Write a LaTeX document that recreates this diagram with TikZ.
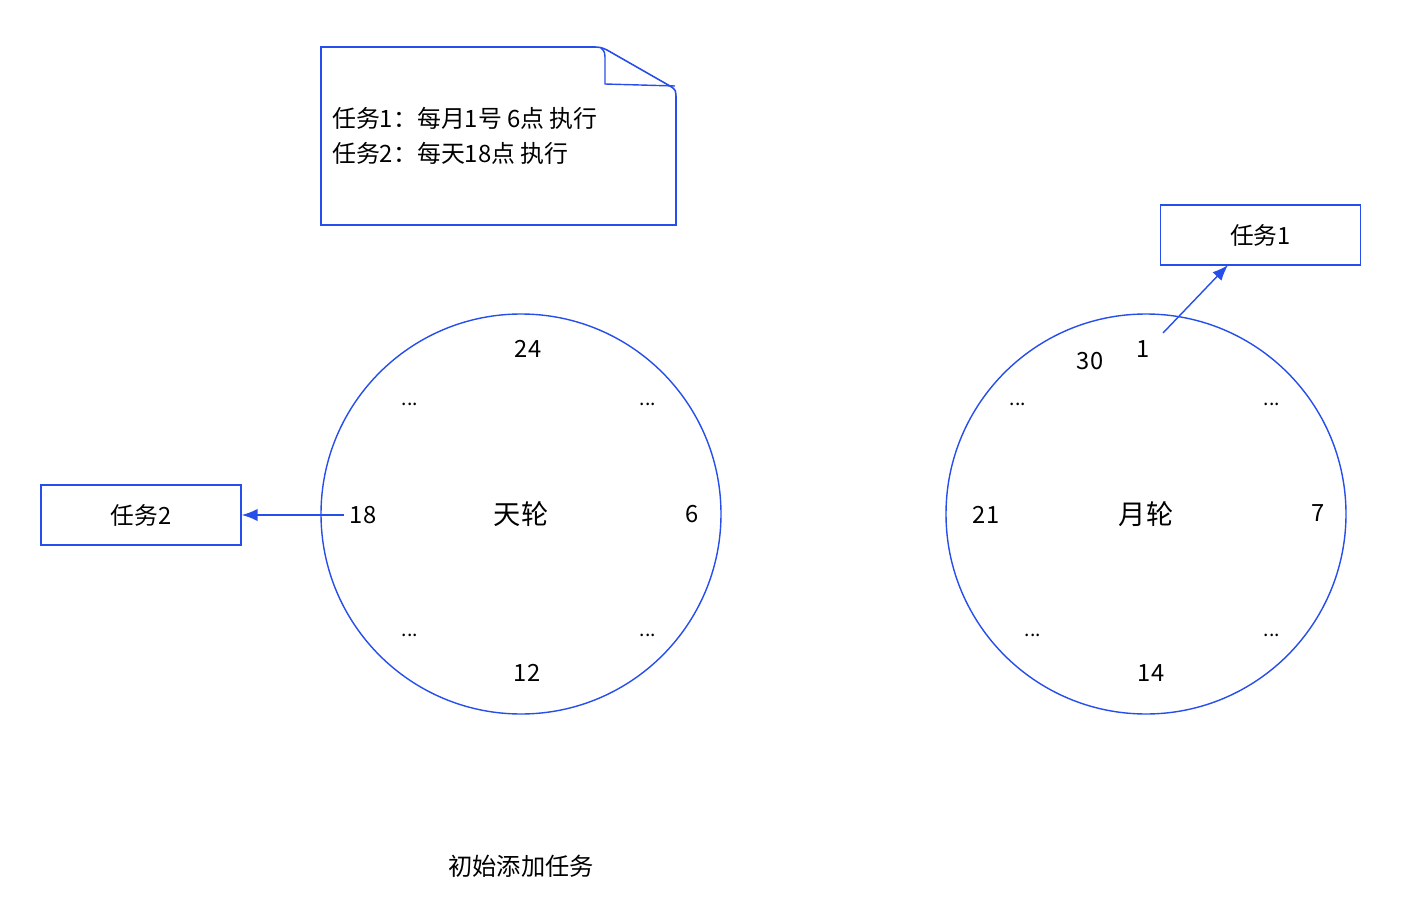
\documentclass[tikz,border=0pt]{standalone}
\usepackage{fontspec}
\setmainfont{Noto Sans CJK SC}
\usetikzlibrary{arrows.meta}
\definecolor{wheelblue}{RGB}{38,78,235}
\tikzset{
  wheel/.style={draw=wheelblue,line width=0.8pt},
  taskbox/.style={draw=wheelblue,line width=0.9pt,minimum width=4cm,minimum height=1.2cm,font=\fontsize{13.5}{16}\selectfont},
  tick/.style={font=\fontsize{13.5}{16}\selectfont},
  dots/.style={font=\fontsize{11}{13}\selectfont},
  hub/.style={font=\fontsize{15.5}{18}\selectfont},
  link/.style={draw=wheelblue,line width=0.8pt,-{Latex[length=9pt,width=7pt]}}
}
\begin{document}
\begin{tikzpicture}[x=0.02cm,y=-0.02cm]
\useasboundingbox (0,0) rectangle (1404,909);
% note
\draw[wheelblue,line width=0.9pt] (321,47) -- (590,47) .. controls (600,47) .. (607,50) -- (670,86) .. controls (676,90) .. (676,100) -- (676,225) -- (321,225) -- cycle;
\draw[wheelblue,line width=0.8pt] (601,48) .. controls (605,52) .. (605,62) -- (605,84) -- (675,86);
\node[anchor=west,align=left,font=\fontsize{13.6}{19.5}\selectfont] (note) at (326,136) {任务1：每月1号 6点 执行\\任务2：每天18点 执行};
% day wheel
\draw[wheel] (521,514) circle [radius=200];
\node[hub] (day) at (521,514) {天轮};
\node[tick] (d24) at (528,349) {24};
\node[tick] (d6) at (692,514) {6};
\node[tick] (d12) at (527,673) {12};
\node[tick] (d18) at (363,515) {18};
\node[dots] at (410,404) {...};
\node[dots] at (648,404) {...};
\node[dots] at (410,635) {...};
\node[dots] at (648,635) {...};
% month wheel
\draw[wheel] (1146,514) circle [radius=200];
\node[hub] (month) at (1146,514) {月轮};
\node[tick] (m1) at (1143,349) {1};
\node[tick] (m30) at (1090,361) {30};
\node[tick] (m7) at (1318,513) {7};
\node[tick] (m14) at (1151,673) {14};
\node[tick] (m21) at (986,515) {21};
\node[dots] at (1018,404) {...};
\node[dots] at (1272,404) {...};
\node[dots] at (1033,635) {...};
\node[dots] at (1272,635) {...};
% tasks
\node[taskbox] (task2) at (141,515) {任务2};
\node[taskbox] (task1) at (1260.5,235) {任务1};
\draw[link] (d18.west) -- (task2.east);
\coordinate (m1out) at (1163,333);
\draw[link] (m1out) -- (1228,265);
\node[font=\fontsize{13.8}{16}\selectfont] (title) at (521,866) {初始添加任务};
\end{tikzpicture}
\end{document}
